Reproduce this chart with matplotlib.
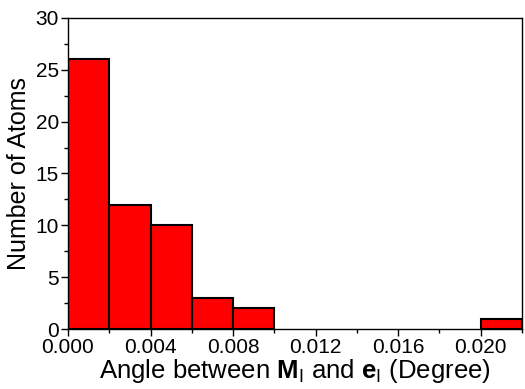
import matplotlib
matplotlib.use("Agg")
import matplotlib.pyplot as plt
from matplotlib.ticker import MultipleLocator

# histogram of angles, bin width 0.002 deg
bin_left = [0.000, 0.002, 0.004, 0.006, 0.008, 0.010, 0.012, 0.014, 0.016, 0.018, 0.020]
counts = [26, 12, 10, 3, 2, 0, 0, 0, 0, 0, 1]
bin_width = 0.002

plt.rcParams["font.family"] = ["Liberation Sans", "DejaVu Sans"]
plt.rcParams["mathtext.fontset"] = "custom"
plt.rcParams["mathtext.rm"] = "Liberation Sans"
plt.rcParams["mathtext.bf"] = "Liberation Sans:bold"

fig = plt.figure(figsize=(5.25, 3.89), dpi=100)
ax = fig.add_axes([0.1295, 0.154, 0.8645, 0.80])

xs = [x for x, c in zip(bin_left, counts) if c > 0]
hs = [c for c in counts if c > 0]
ax.bar(xs, hs, width=bin_width, align="edge", color="#ff0000",
       edgecolor="black", linewidth=1.5, zorder=2)

ax.set_xlim(0, 0.022)
ax.set_ylim(0, 30)
ax.xaxis.set_major_locator(MultipleLocator(0.004))
ax.xaxis.set_minor_locator(MultipleLocator(0.002))
ax.yaxis.set_major_locator(MultipleLocator(5))
ax.yaxis.set_minor_locator(MultipleLocator(2.5))
ax.xaxis.set_major_formatter(plt.FuncFormatter(lambda v, p: f"{v:.3f}"))

ax.tick_params(which="major", direction="out", length=5, width=1, labelsize=15, pad=1.5)
ax.tick_params(which="minor", direction="out", length=3, width=1)
ax.tick_params(top=False, right=False)
for s in ax.spines.values():
    s.set_linewidth(1)

ax.set_ylabel("Number of Atoms", fontsize=18, labelpad=3)
ax.set_xlabel(r"Angle between $\mathbf{M}_\mathrm{I}$ and $\mathbf{e}_\mathrm{I}$ (Degree)",
              fontsize=18.5, labelpad=0)

fig.savefig("out.png", dpi=100)
